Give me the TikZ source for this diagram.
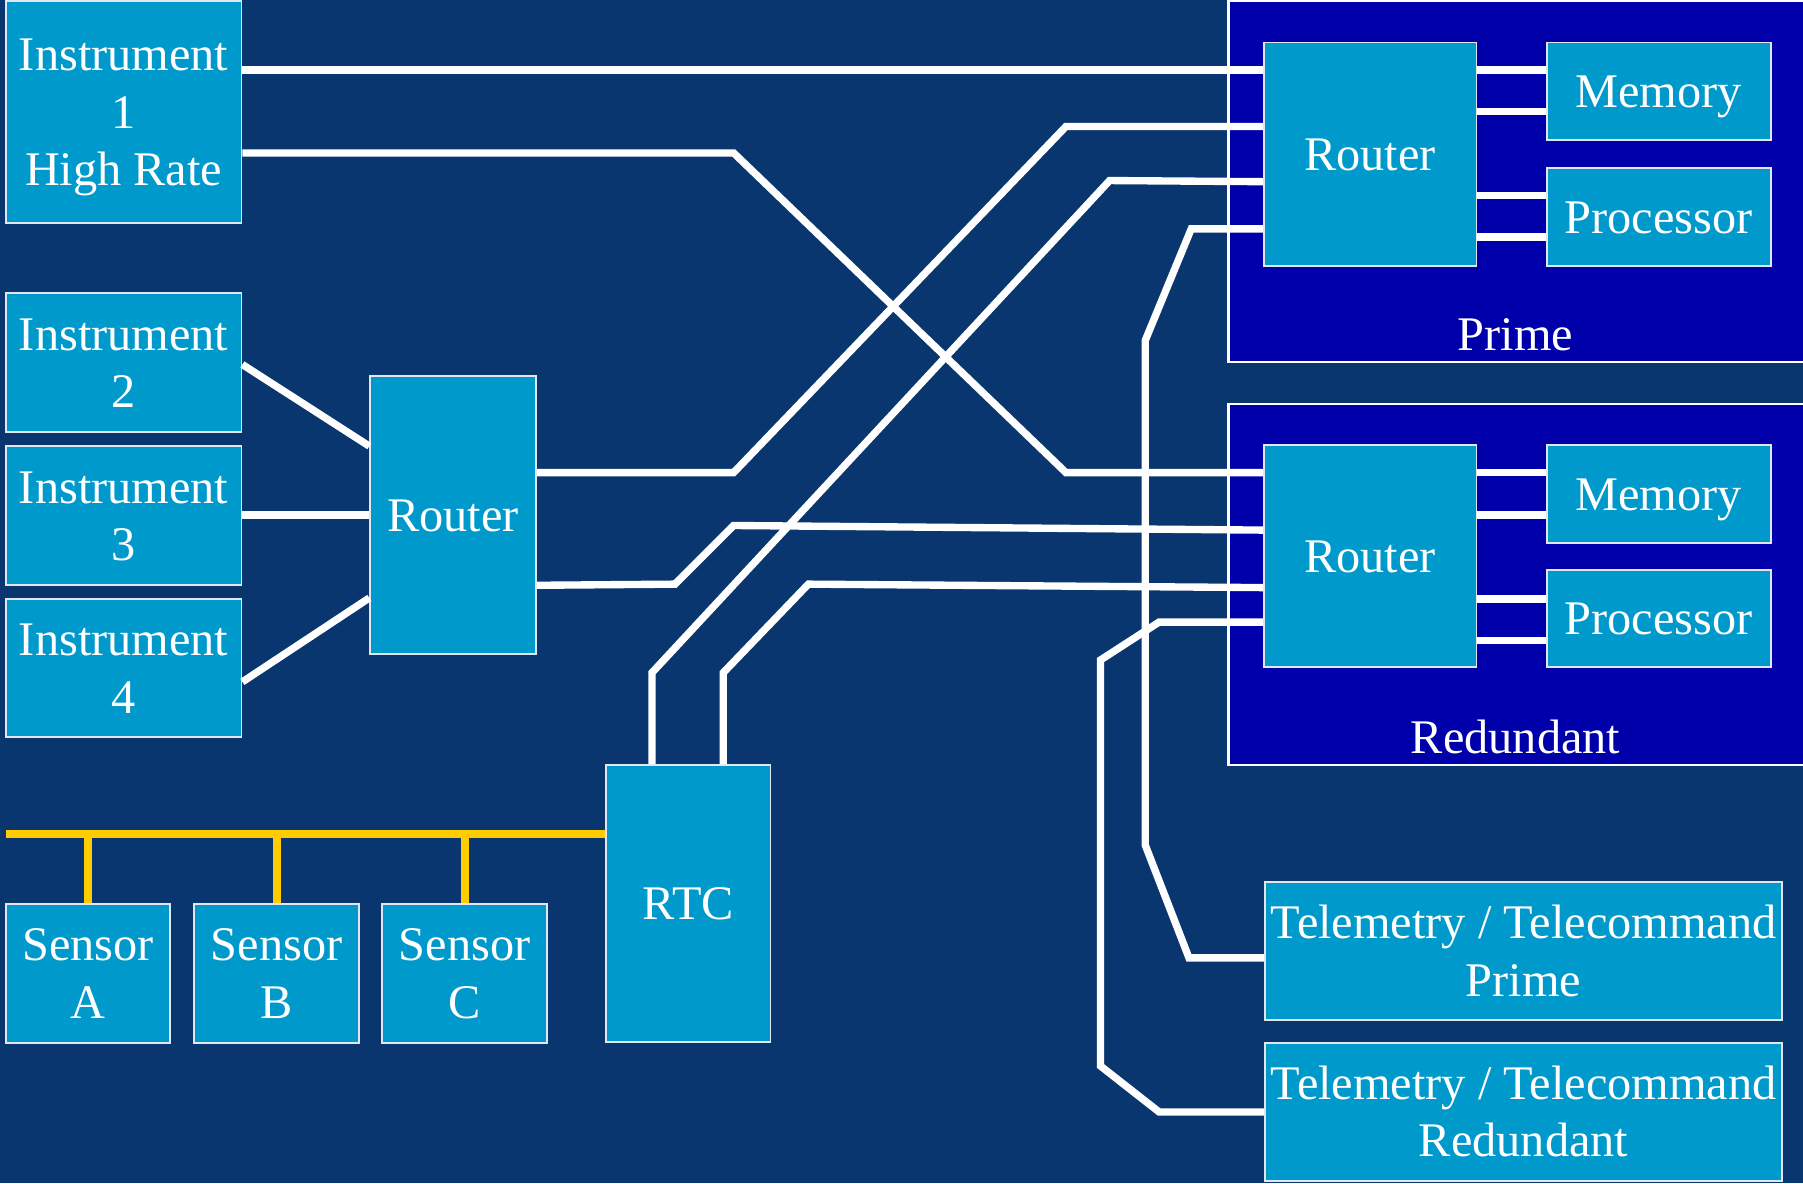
\documentclass[tikz,border=0pt]{standalone}
\usepackage{fontspec}
\setmainfont{Liberation Serif}
\usetikzlibrary{fit}
\definecolor{bgnavy}{RGB}{9,54,110}
\definecolor{boxblue}{RGB}{0,153,204}
\definecolor{unitblue}{RGB}{0,0,170}
\definecolor{busyellow}{RGB}{255,204,0}
\definecolor{edgegray}{RGB}{225,230,240}
\newcommand\ppstrut{\vrule width 0pt height 0.891em depth 0.216em\relax}
\begin{document}
\begin{tikzpicture}[x=0.5pt,y=-0.5pt,
  box/.style={draw=edgegray, line width=0.8pt, fill=boxblue, text=white, inner sep=0pt, align=center,
    font=\fontsize{21}{25}\selectfont},
  wh/.style 2 args={minimum width=#1*0.5pt, minimum height=#2*0.5pt},
  unit/.style={draw=white, line width=0.9pt, fill=unitblue, inner sep=0pt},
  lbl/.style={text=white, font=\fontsize{21}{25}\selectfont, inner sep=0pt},
  wire/.style={draw=white, line width=3.2pt, line join=miter},
  bus/.style={draw=busyellow, line width=3.5pt}]
\fill[bgnavy] (0,0) rectangle (1568,1029);
\useasboundingbox (0,0) rectangle (1568,1029);
% units
\node[unit, fit={(1069,1) (1590,315)}] (pu) {};
\node[lbl] (pl) at (1318,291) {Prime};
\node[unit, fit={(1069,351) (1590,665)}] (ru) {};
\node[lbl] (rl) at (1318,641) {Redundant};
% boxes
\node[box, wh={205}{193}] (i1) at (107.5,97.5) {\ppstrut Instrument\\1\\High Rate\ppstrut};
\node[box, wh={205}{121}] (i2) at (107.5,315.5) {\ppstrut Instrument\\2\ppstrut};
\node[box, wh={205}{121}] (i3) at (107.5,448.5) {\ppstrut Instrument\\3\ppstrut};
\node[box, wh={205}{120}] (i4) at (107.5,581) {\ppstrut Instrument\\4\ppstrut};
\node[box, wh={144}{242}] (lr) at (394,448) {\ppstrut Router};
\node[box, wh={143}{241}] (rtc) at (598.5,785.5) {\ppstrut RTC};
\node[box, wh={143}{121}] (sa) at (76.5,846.5) {\ppstrut Sensor\\A\ppstrut};
\node[box, wh={143}{121}] (sb) at (240.5,846.5) {\ppstrut Sensor\\B\ppstrut};
\node[box, wh={144}{121}] (sc) at (404,846.5) {\ppstrut Sensor\\C\ppstrut};
\node[box, wh={185}{194}] (pr) at (1191.5,134) {\ppstrut Router};
\node[box, wh={195}{85}] (pm) at (1442.5,79.5) {\ppstrut Memory};
\node[box, wh={195}{85}] (pp) at (1442.5,188.5) {\ppstrut Processor};
\node[box, wh={185}{193}] (rr) at (1191.5,483.5) {\ppstrut Router};
\node[box, wh={195}{85}] (rm) at (1442.5,429.5) {\ppstrut Memory};
\node[box, wh={195}{84}] (rp) at (1442.5,538) {\ppstrut Processor};
\node[box, wh={450}{120}] (tp) at (1325,827) {\ppstrut Telemetry / Telecommand\\Prime\ppstrut};
\node[box, wh={450}{120}] (tr) at (1325,967) {\ppstrut Telemetry / Telecommand\\Redundant\ppstrut};
% wires
\draw[wire] (i1.east |- 0,61) -- (pr.west |- 0,61);
\draw[wire] (i1.east |- 0,133) -- (638,133) -- (927,411) -- (rr.west |- 0,411);
\draw[wire] (i2.east |- 0,317) -- (lr.west |- 0,388);
\draw[wire] (i3.east |- 0,448) -- (lr.west |- 0,448);
\draw[wire] (i4.east |- 0,593) -- (lr.west |- 0,520);
\draw[wire] (lr.east |- 0,411) -- (638,411) -- (927,110) -- (pr.west |- 0,110);
\draw[wire] (lr.east |- 0,509) -- (587,508) -- (638,457) -- (rr.west |- 0,461);
\draw[wire] (rtc.north -| 567,0) -- (567,585) -- (965,157) -- (pr.west |- 0,158);
\draw[wire] (rtc.north -| 629,0) -- (629,585) -- (703,508) -- (rr.west |- 0,511);
\draw[wire] (pr.west |- 0,199) -- (1036,199) -- (996,296) -- (996,735) -- (1034,833) -- (tp.west |- 0,833);
\draw[wire] (rr.west |- 0,541) -- (1008,541) -- (957,574) -- (957,927) -- (1008,967) -- (tr.west |- 0,967);
% inner wires
\draw[wire] (pr.east |- 0,61) -- (pm.west |- 0,61);
\draw[wire] (pr.east |- 0,97) -- (pm.west |- 0,97);
\draw[wire] (pr.east |- 0,170) -- (pp.west |- 0,170);
\draw[wire] (pr.east |- 0,206) -- (pp.west |- 0,206);
\draw[wire] (rr.east |- 0,411) -- (rm.west |- 0,411);
\draw[wire] (rr.east |- 0,448) -- (rm.west |- 0,448);
\draw[wire] (rr.east |- 0,521) -- (rp.west |- 0,521);
\draw[wire] (rr.east |- 0,557) -- (rp.west |- 0,557);
% container left borders over the wires
\draw[white, line width=0.9pt] (pu.north west) -- (pu.south west);
\draw[white, line width=0.9pt] (ru.north west) -- (ru.south west);
% bus
\coordinate (busend) at (5,725);
\draw[bus] (busend) -- (rtc.west |- busend);
\draw[bus] (sa.north) -- (sa.north |- busend);
\draw[bus] (sb.north) -- (sb.north |- busend);
\draw[bus] (sc.north) -- (sc.north |- busend);
\end{tikzpicture}
\end{document}
